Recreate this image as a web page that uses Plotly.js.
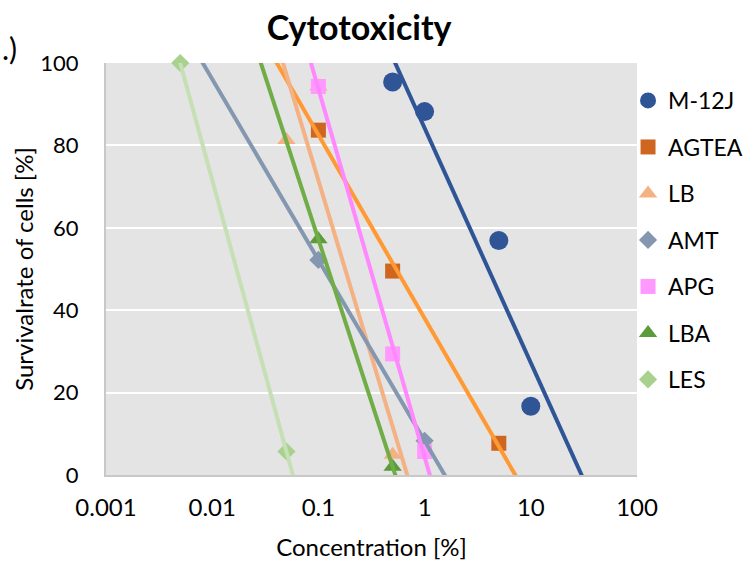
<!DOCTYPE html>
<html>
<head>
<meta charset="utf-8">
<script src="https://cdn.plot.ly/plotly-3.0.1.min.js"></script>
<style>html,body{margin:0;padding:0;background:#fff;}#chart{width:745px;height:565px;}</style>
</head>
<body>
<div id="chart"></div>
<script>
// ---- data ----
const seriesNames = ["M-12J", "AGTEA", "LB", "AMT", "APG", "LBA", "LES"];
const x_M12J  = [0.5, 1, 5, 10];
const y_M12J  = [95.4, 88.2, 56.9, 16.7];
const x_AGTEA = [0.1, 0.5, 5];
const y_AGTEA = [83.7, 49.5, 7.7];
const x_LB    = [0.05, 0.1, 0.5];
const y_LB    = [81.3, 94.3, 4.9];
const x_AMT   = [0.1, 1];
const y_AMT   = [52.2, 8.3];
const x_APG   = [0.1, 0.5, 1];
const y_APG   = [94.3, 29.4, 5.7];
const x_LBA   = [0.1, 0.5];
const y_LBA   = [57.2, 2.0];
const x_LES   = [0.005, 0.05];
const y_LES   = [100, 5.7];
const xTickVals = [0.001, 0.01, 0.1, 1, 10, 100];
const xTickText = ["0.001", "0.01", "0.1", "1", "10", "100"];

// ---- styles ----
const xs = [x_M12J, x_AGTEA, x_LB, x_AMT, x_APG, x_LBA, x_LES];
const ys = [y_M12J, y_AGTEA, y_LB, y_AMT, y_APG, y_LBA, y_LES];
const markerColors = ["#2F5597", "#CF6620", "#F4B183", "#8497B0", "#FF99FF", "#5B9B3A", "#A9D18E"];
const lineColors   = ["#2F5597", "#FF9933", "#F4B183", "#8497B0", "#FF88FF", "#70AD47", "#C5E0B4"];
const symbols = ["circle", "square", "triangle-up", "diamond", "square", "triangle-up", "diamond"];
const sizes   = [19, 15, 16, 14, 15, 16, 14];

// logarithmic trendline: y = m*log10(x) + c (least squares)
function fit(x, y) {
  const lx = x.map(v => Math.log10(v));
  const n = lx.length;
  const mx = lx.reduce((a, b) => a + b, 0) / n;
  const my = y.reduce((a, b) => a + b, 0) / n;
  let sxy = 0, sxx = 0;
  for (let i = 0; i < n; i++) { sxy += (lx[i] - mx) * (y[i] - my); sxx += (lx[i] - mx) ** 2; }
  const m = sxy / sxx;
  return { m: m, c: my - m * mx };
}

const font = "Lato, 'Open Sans', sans-serif";
const traces = [];
seriesNames.forEach((name, i) => {
  traces.push({
    x: xs[i], y: ys[i], name: name, type: "scatter", mode: "markers",
    legendgroup: name, cliponaxis: false,
    marker: { symbol: symbols[i], size: sizes[i], color: markerColors[i], line: { width: 0 } }
  });
});
seriesNames.forEach((name, i) => {
  const f = fit(xs[i], ys[i]);
  const yTop = 110, yBot = -10;
  const lx1 = (yTop - f.c) / f.m, lx2 = (yBot - f.c) / f.m;
  traces.push({
    x: [Math.pow(10, lx1), Math.pow(10, lx2)], y: [yTop, yBot],
    type: "scatter", mode: "lines", showlegend: false, legendgroup: name,
    hoverinfo: "skip",
    line: { color: lineColors[i], width: 4 }
  });
});

const layout = {
  width: 745, height: 565,
  margin: { l: 106, r: 108, t: 63, b: 90, pad: 0, autoexpand: false },
  paper_bgcolor: "#ffffff",
  plot_bgcolor: "#E4E4E4",
  font: { family: font, size: 22, color: "#000000" },
  title: {
    text: "<b>Cytotoxicity</b>", font: { family: font, size: 34, color: "#000000" },
    x: 0.482, xanchor: "center", xref: "container", y: 0.95, yanchor: "middle", yref: "container"
  },
  xaxis: {
    type: "log", range: [-3, 2],
    tickvals: xTickVals, ticktext: xTickText,
    showgrid: false, zeroline: false,
    showline: true, linecolor: "#C8C8C8", linewidth: 2,
    ticks: "", ticklabelstandoff: 10,
    tickfont: { family: font, size: 24, color: "#000" },
    title: { text: "Concentration [%]", font: { family: font, size: 24, color: "#000" }, standoff: 19 },
    automargin: false, fixedrange: true
  },
  yaxis: {
    range: [0, 100], dtick: 20, tick0: 0,
    showgrid: true, gridcolor: "#FFFFFF", gridwidth: 2,
    zeroline: false,
    showline: true, linecolor: "#C8C8C8", linewidth: 2,
    ticks: "", ticklabelstandoff: 21,
    tickfont: { family: font, size: 22, color: "#000" },
    title: { text: "Survivalrate of cells [%]", font: { family: font, size: 24, color: "#000" }, standoff: 0 },
    automargin: false, fixedrange: true
  },
  legend: {
    xref: "container", yref: "container",
    x: 0.843, xanchor: "left", y: 1 - 79 / 565, yanchor: "top",
    maxheight: 500,
    font: { family: font, size: 23, color: "#000" },
    bgcolor: "rgba(0,0,0,0)", tracegroupgap: 13.6, itemsizing: "trace"
  },
  annotations: [{
    text: ".)", xref: "paper", yref: "paper", x: -0.2, y: 1.036,
    xanchor: "left", yanchor: "middle", showarrow: false,
    font: { family: font, size: 30, color: "#000" }
  }],
  showlegend: true
};

Plotly.newPlot("chart", traces, layout, { staticPlot: true, displayModeBar: false });
</script>
</body>
</html>
